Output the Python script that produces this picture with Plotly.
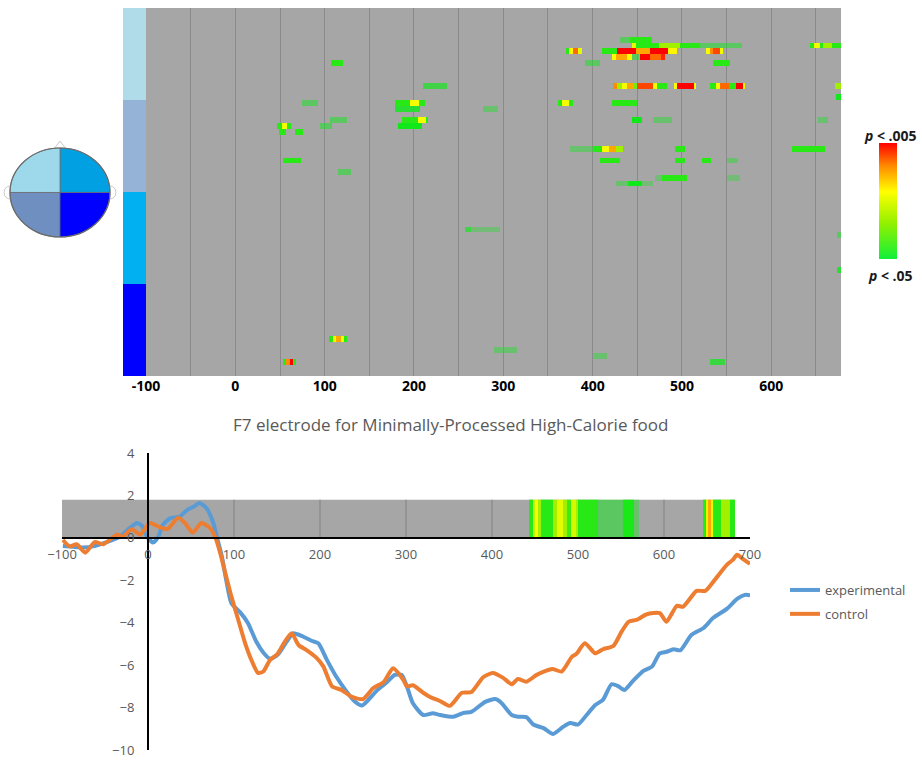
import numpy as np
import plotly.graph_objects as go

W, H = 922, 763


def px(x):
    return x / W


def py(y):
    return 1 - y / H


# ---------------- significance map: 64 electrodes x time ----------------
# electrode row (0 = top), window start / end (ms), significance level as -log10(p)
sig_row = [
    5, 5,
    6, 6, 6, 6, 6, 6, 6, 6, 6, 6,
    7, 7, 7, 7, 7, 7, 7, 7, 7, 7, 7, 7, 7,
    8, 8, 8, 8, 8, 8, 8,
    9, 9, 9,
    13, 13, 13, 13, 13, 13, 13, 13, 13, 13, 13, 13, 13, 13, 13, 13, 13, 13, 13,
    15,
    16, 16, 16, 16, 16, 16, 16, 16,
    17, 17,
    19, 19, 19, 19, 19, 19, 19,
    20, 20, 20, 20, 20,
    21, 21,
    24, 24, 24, 24, 24, 24, 24,
    26, 26, 26, 26, 26,
    28,
    29, 29, 29,
    30, 30, 30,
    38, 38,
    39,
    45,
    57, 57, 57, 57, 57,
    59,
    60,
    61, 61, 61, 61, 61,
]
sig_start = [
    431, 442,
    444, 449, 474, 498, 520, 643, 648, 654, 658, 668,
    370, 374, 378, 384, 410, 427, 449, 464, 484, 527, 531, 535, 542,
    422, 426, 438, 444, 453, 464, 476,
    107, 391, 535,
    210, 423, 427, 433, 438, 446, 450, 468, 472, 491, 494, 513, 531, 538, 542, 553, 561, 568, 671,
    672,
    75, 179, 195, 206, 361, 366, 374, 422,
    179, 277,
    106, 187, 204, 213, 444, 467, 652,
    47, 52, 58, 95, 182,
    49, 67,
    375, 400, 410, 418, 426, 492, 623,
    53, 408, 492, 522, 550,
    115,
    470, 478, 550,
    426, 440, 455,
    257, 264,
    673,
    673,
    105, 109, 113, 118, 122,
    290,
    400,
    53, 57, 61, 65, 531,
]
sig_end = [
    442, 466,
    449, 474, 498, 520, 567, 648, 654, 658, 668, 678,
    374, 378, 384, 388, 427, 449, 464, 484, 494, 531, 535, 542, 546,
    426, 438, 444, 452, 464, 476, 481,
    120, 408, 554,
    237, 427, 433, 438, 446, 450, 468, 472, 483, 494, 513, 516, 538, 542, 553, 561, 568, 570, 678,
    678,
    92, 195, 206, 212, 366, 374, 378, 450,
    207, 294,
    125, 204, 213, 216, 455, 489, 663,
    52, 58, 62, 108, 209,
    57, 76,
    400, 410, 418, 426, 434, 503, 660,
    73, 431, 503, 533, 563,
    129,
    478, 506, 565,
    440, 455, 468,
    264, 296,
    678,
    678,
    109, 113, 118, 122, 125,
    315,
    416,
    57, 61, 65, 68, 548,
]
sig_level = [
    1.15, 1.35,
    1.8, 1.35, 1.6, 1.35, 1.15, 1.35, 1.85, 1.35, 1.6, 1.35,
    1.35, 1.85, 2.15, 1.8, 1.35, 2.3, 2.05, 2.3, 1.9, 1.85, 2.1, 2.2, 1.85,
    1.85, 2.05, 1.85, 1.15, 2.3, 2.15, 2.25,
    1.35, 1.15, 1.35,
    1.2, 2.1, 1.6, 1.85, 2.05, 1.5, 2.2, 1.85, 1.35, 1.85, 2.3, 1.85, 1.35, 1.85, 2.15, 1.35, 2.3, 1.85, 1.6,
    1.3,
    1.15, 1.35, 1.85, 1.35, 1.35, 1.85, 1.35, 1.35,
    1.25, 1.12,
    1.15, 1.35, 1.85, 1.35, 1.3, 1.12, 1.12,
    1.35, 1.85, 1.35, 1.15, 1.3,
    1.35, 1.35,
    1.12, 1.35, 1.85, 2.05, 1.6, 1.35, 1.35,
    1.35, 1.35, 1.35, 1.35, 1.12,
    1.15,
    1.1, 1.35, 1.1,
    1.12, 1.3, 1.1,
    1.2, 1.1,
    1.15,
    1.25,
    1.35, 1.85, 2.05, 1.85, 1.35,
    1.12,
    1.12,
    1.35, 2.1, 2.3, 1.35, 1.22,
]

# electrode regions (16 electrodes each), top to bottom
region_colors = ["#b0dcea", "#95b3d7", "#00b0f0", "#0000ff"]
head_colors = {"tl": "#9dd9ea", "tr": "#00a0e3", "bl": "#6f8fc0", "br": "#0000ff"}

# ---------------- F7 waveforms ----------------
exp_t = [-99, -87, -75, -64, -48, -33, -21, -13, -7, -1, 6, 12, 17, 26, 37, 45, 53, 60, 68, 76,
         80, 86, 91, 97, 107, 116, 126, 134, 142, 151, 161, 169, 180, 190, 198, 208, 219, 231,
         241, 249, 256, 266, 278, 287, 295, 301, 308, 320, 331, 340, 355, 367, 376, 392, 404,
         411, 423, 430, 440, 448, 460, 471, 483, 491, 500, 510, 520, 529, 539, 547, 554, 564,
         576, 586, 595, 603, 611, 619, 632, 646, 657, 673, 685, 694, 700]
exp_v = [-0.38, -0.42, -0.45, -0.4, -0.2, 0.05, 0.47, 0.7, 0.57, 0.05, -0.22, 0.05, 0.6, 0.93,
         1.0, 1.3, 1.47, 1.64, 1.4, 0.7, 0.05, -0.9, -2.0, -3.08, -3.5, -4.0, -4.9, -5.4, -5.7,
         -5.5, -4.9, -4.5, -4.65, -4.85, -4.97, -5.75, -6.55, -7.25, -7.73, -7.9, -7.65, -7.2,
         -6.8, -6.46, -6.46, -7.0, -7.8, -8.35, -8.27, -8.35, -8.43, -8.25, -8.2, -7.73, -7.6,
         -7.78, -8.35, -8.43, -8.45, -8.8, -8.97, -9.24, -8.9, -8.73, -8.8, -8.35, -7.88, -7.64,
         -6.9, -7.0, -7.17, -6.74, -6.27, -6.07, -5.44, -5.37, -5.25, -5.3, -4.57, -4.25, -3.78,
         -3.35, -2.88, -2.69, -2.7]
ctl_t = [-99, -91, -83, -73, -62, -52, -36, -30, -19, -9, 2, 14, 23, 35, 43, 52, 62, 72, 78, 84,
         92, 97, 105, 113, 121, 128, 134, 142, 150, 159, 167, 175, 184, 196, 204, 214, 225, 237,
         250, 262, 274, 285, 297, 301, 308, 320, 328, 340, 351, 365, 376, 390, 401, 413, 423,
         430, 440, 452, 470, 481, 493, 498, 508, 520, 529, 541, 551, 559, 568, 580, 595, 603,
         615, 622, 638, 648, 659, 673, 680, 685, 692, 700]
ctl_v = [-0.1, -0.4, -0.3, -0.7, -0.2, -0.3, 0.15, 0.05, 0.4, 0.15, 0.7, 0.5, 0.42, 0.95, 0.7,
         0.25, 0.7, 0.47, 0.05, -0.72, -2.0, -2.77, -3.87, -4.97, -5.83, -6.37, -6.3, -5.75,
         -5.5, -4.9, -4.5, -5.05, -5.28, -5.66, -6.07, -7.0, -7.17, -7.5, -7.6, -7.08, -6.8,
         -6.15, -6.7, -7.0, -6.95, -7.3, -7.5, -7.7, -7.92, -7.3, -7.27, -6.56, -6.37, -6.6,
         -6.9, -6.65, -6.78, -6.46, -6.18, -6.3, -5.6, -5.48, -4.97, -5.44, -5.25, -5.1, -4.4,
         -3.95, -3.87, -3.6, -3.55, -3.95, -3.2, -3.25, -2.5, -2.5, -1.98, -1.27, -1.04, -0.8,
         -1.0, -1.23]

# F7 significance strip: start / end (ms), -log10(p)
f7_start = [443, 447, 450, 453, 456, 471, 475, 482, 487, 491, 497, 500, 523, 552, 565,
            645, 648, 651, 654, 656, 666, 676]
f7_end = [447, 450, 453, 456, 471, 475, 482, 487, 491, 497, 500, 523, 552, 565, 570,
          648, 651, 654, 656, 666, 676, 682]
f7_level = [1.35, 1.7, 1.85, 1.6, 1.35, 1.6, 1.8, 1.6, 1.4, 1.75, 1.6, 1.35, 1.15, 1.32, 1.12,
            1.35, 1.8, 2.05, 1.8, 1.35, 1.6, 1.35]

top_ticks = [-100, 0, 100, 200, 300, 400, 500, 600]
bottom_xticks = [-100, 0, 100, 200, 300, 400, 500, 600, 700]
bottom_yticks = [-10, -8, -6, -4, -2, 0, 2, 4]

GRAY = "#a6a6a6"
GRID = "#8a8a8a"
TXT = "#595959"
FONT = "Open Sans"

# colour ramp on -log10(p): transparent below p=.1, green at p=.05, red at p=.005
ZMIN, ZMAX = 1.0, 2.3


def pos(v):
    return (v - ZMIN) / (ZMAX - ZMIN)


sig_scale = [
    [0.0, "rgba(16,232,26,0)"],
    [pos(1.3), "rgba(16,232,26,1)"],
    [pos(1.6), "rgba(160,240,0,1)"],
    [pos(1.88), "rgba(255,255,0,1)"],
    [pos(2.1), "rgba(255,140,0,1)"],
    [1.0, "rgba(255,0,0,1)"],
]
bar_scale = [[0.0, "#10f03a"], [0.3, "#90f000"], [0.58, "#ffff00"], [0.8, "#ff8c00"], [1.0, "#ff0000"]]

# ---------------- build grids ----------------
t_edges = np.arange(-100, 679)
t_left = t_edges[:-1]
z = np.full((64, len(t_left)), np.nan)
for r, a, b, lv in zip(sig_row, sig_start, sig_end, sig_level):
    z[r, (t_left >= a) & (t_left < b)] = lv

f7_edges = np.arange(-100, 683)
f7_left = f7_edges[:-1]
zf = np.full((1, len(f7_left)), np.nan)
for a, b, lv in zip(f7_start, f7_end, f7_level):
    zf[0, (f7_left >= a) & (f7_left < b)] = lv

fig = go.Figure()

fig.add_trace(go.Heatmap(
    x=t_edges, y=np.arange(-0.5, 64.5, 1.0), z=z,
    zmin=ZMIN, zmax=ZMAX, colorscale=sig_scale, showscale=False,
    hoverinfo="skip", xaxis="x", yaxis="y",
))

fig.add_trace(go.Heatmap(
    x=f7_edges, y=[0, 1.8], z=zf,
    zmin=ZMIN, zmax=ZMAX, colorscale=sig_scale, showscale=False,
    hoverinfo="skip", xaxis="x2", yaxis="y2",
))

fig.add_trace(go.Scatter(
    x=exp_t, y=exp_v, mode="lines", name="experimental",
    line=dict(color="#5b9bd5", width=4, shape="spline", smoothing=0.6),
    xaxis="x2", yaxis="y2", legendgroup="a",
))
fig.add_trace(go.Scatter(
    x=ctl_t, y=ctl_v, mode="lines", name="control",
    line=dict(color="#ed7d31", width=4, shape="spline", smoothing=0.6),
    xaxis="x2", yaxis="y2", legendgroup="b",
))

# colour key for the significance levels
fig.add_trace(go.Scatter(
    x=[None], y=[None], mode="markers", showlegend=False, hoverinfo="skip",
    xaxis="x2", yaxis="y2",
    marker=dict(
        color=[1.3], cmin=1.3, cmax=2.3, colorscale=bar_scale, showscale=True,
        colorbar=dict(
            x=px(879), xanchor="left", y=py(201), yanchor="middle",
            len=116, lenmode="pixels", thickness=18, xpad=0, ypad=0,
            outlinewidth=0, showticklabels=False, ticks="",
        ),
    ),
))

shapes = []

# grey background of the significance map
shapes.append(dict(type="rect", xref="x domain", yref="y domain", x0=0, x1=1, y0=0, y1=1,
                   fillcolor=GRAY, line=dict(width=0), layer="below"))

# electrode-region strip
strip_edges = [8, 100, 192, 284, 376]
for i, c in enumerate(region_colors):
    shapes.append(dict(type="rect", xref="paper", yref="paper",
                       x0=px(123), x1=px(146), y0=py(strip_edges[i + 1]), y1=py(strip_edges[i]),
                       fillcolor=c, line=dict(width=0), layer="above"))

# F7 strip background and its 100 ms markers
shapes.append(dict(type="rect", xref="x2", yref="y2", x0=-100, x1=682, y0=0, y1=1.8,
                   fillcolor=GRAY, line=dict(width=0), layer="below"))
for t in [100, 200, 300, 400, 500, 600]:
    shapes.append(dict(type="line", xref="x2", yref="y2", x0=t, x1=t, y0=0, y1=1.8,
                       line=dict(color=GRID, width=1.3), layer="below"))

# head schematic
cx, cy, rx, ry = 60, 192.5, 50, 44.5
for ex0 in (4, 104):
    shapes.append(dict(type="circle", xref="paper", yref="paper",
                       x0=px(ex0), x1=px(ex0 + 12), y0=py(199), y1=py(186),
                       fillcolor="white", line=dict(color="#c8c8c8", width=1)))
shapes.append(dict(type="path", xref="paper", yref="paper",
                   path=f"M {px(54)},{py(149)} L {px(60)},{py(141)} L {px(66)},{py(149)} Z",
                   fillcolor="white", line=dict(color="#c8c8c8", width=1)))


def quadrant(a0, a1):
    ang = np.radians(np.linspace(a0, a1, 40))
    pts = [f"L {px(cx + rx * np.cos(a)):.5f},{py(cy - ry * np.sin(a)):.5f}" for a in ang]
    return f"M {px(cx):.5f},{py(cy):.5f} " + " ".join(pts) + " Z"


for key, (a0, a1) in {"tr": (0, 90), "tl": (90, 180), "bl": (180, 270), "br": (270, 360)}.items():
    shapes.append(dict(type="path", xref="paper", yref="paper", path=quadrant(a0, a1),
                       fillcolor=head_colors[key], line=dict(color="#707070", width=0.8)))
shapes.append(dict(type="circle", xref="paper", yref="paper",
                   x0=px(cx - rx), x1=px(cx + rx), y0=py(cy + ry), y1=py(cy - ry),
                   line=dict(color="#6a6a6a", width=1.2)))

annotations = [
    dict(text="F7 electrode for Minimally-Processed High-Calorie food", xref="paper", yref="paper",
         x=px(450), y=py(424), xanchor="center", yanchor="middle", showarrow=False,
         font=dict(family=FONT, size=17, color=TXT)),
    dict(text="<b><i>p</i> &lt; .005</b>", xref="paper", yref="paper",
         x=px(890), y=py(135), xanchor="center", yanchor="middle", showarrow=False,
         font=dict(family=FONT, size=14, color="#1a1a1a")),
    dict(text="<b><i>p</i> &lt; .05</b>", xref="paper", yref="paper",
         x=px(890), y=py(275), xanchor="center", yanchor="middle", showarrow=False,
         font=dict(family=FONT, size=14, color="#1a1a1a")),
]

grid_vals = list(range(-100, 651, 50))
grid_text = [f"<b>{v}</b>" if v in top_ticks else "" for v in grid_vals]

fig.update_layout(
    width=W, height=H, margin=dict(l=0, r=0, t=0, b=0, autoexpand=False),
    paper_bgcolor="white", plot_bgcolor="rgba(0,0,0,0)",
    font=dict(family=FONT, color=TXT),
    shapes=shapes, annotations=annotations,
    xaxis=dict(
        domain=[px(146), px(841)], range=[-100, 678], anchor="y",
        tickmode="array", tickvals=grid_vals, ticktext=grid_text,
        tickfont=dict(family=FONT, size=14, color="black"),
        showgrid=True, gridcolor=GRID, gridwidth=1.3, zeroline=False, showline=False,
        ticks="", ticklen=0,
    ),
    yaxis=dict(
        domain=[py(376), py(8)], range=[63.5, -0.5], anchor="x",
        showticklabels=False, showgrid=False, zeroline=False, showline=False,
    ),
    xaxis2=dict(
        domain=[px(62), px(750)], range=[-100, 700], anchor="free", position=py(538),
        tickmode="array", tickvals=bottom_xticks,
        tickfont=dict(family=FONT, size=13, color=TXT),
        showgrid=False, zeroline=False, showline=True, linecolor="black", linewidth=1.5,
        ticks="outside", ticklen=5, tickcolor="rgba(0,0,0,0)",
    ),
    yaxis2=dict(
        domain=[py(750), py(453)], range=[-10, 4], anchor="free", position=px(148),
        tickmode="array", tickvals=bottom_yticks,
        tickfont=dict(family=FONT, size=13, color=TXT),
        showgrid=False, zeroline=False, showline=True, linecolor="black", linewidth=2,
        ticks="outside", ticklen=10, tickcolor="rgba(0,0,0,0)",
    ),
    showlegend=True,
    legend=dict(
        x=px(785), y=py(575), xanchor="left", yanchor="top",
        font=dict(family=FONT, size=13, color=TXT), itemwidth=30,
        traceorder="grouped", tracegroupgap=4, bgcolor="rgba(0,0,0,0)",
    ),
)

fig.write_html("out.html")
